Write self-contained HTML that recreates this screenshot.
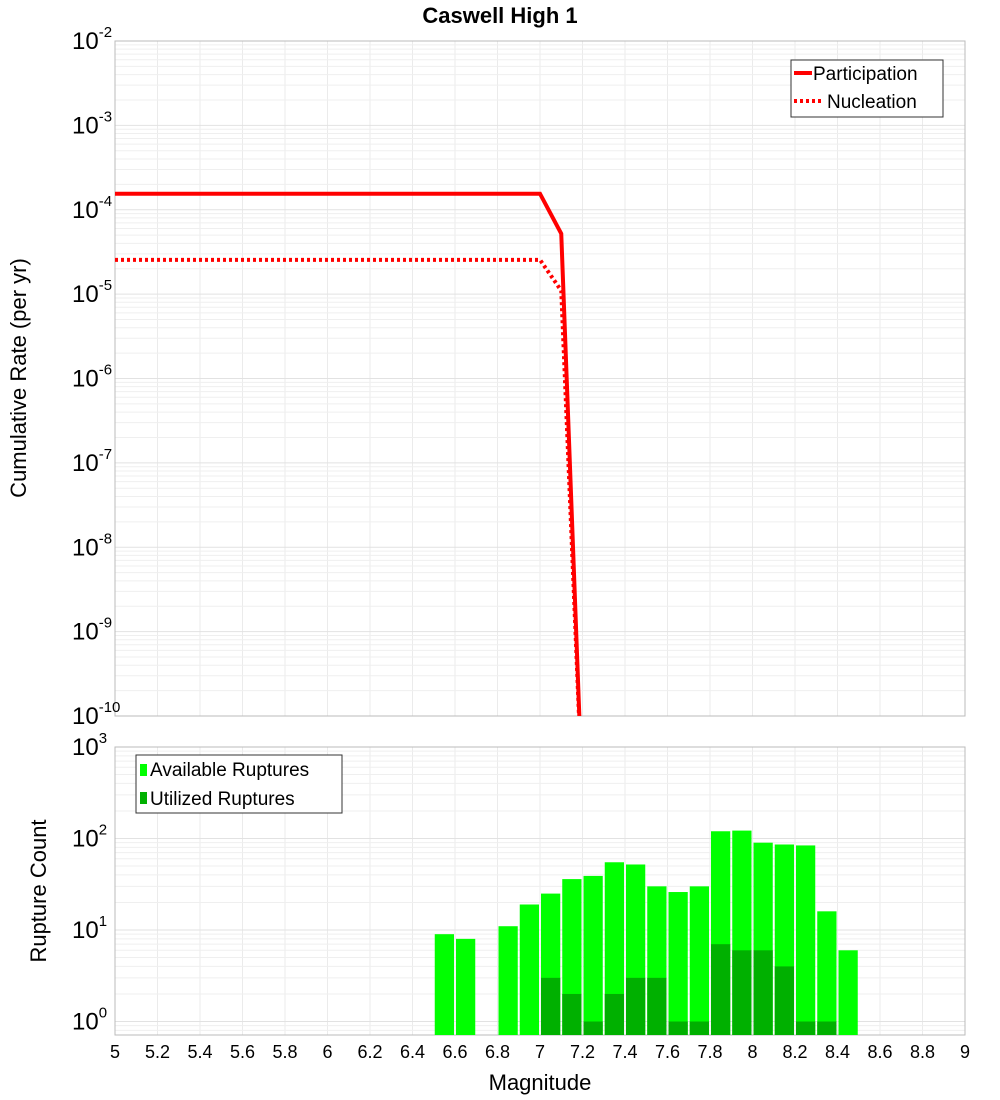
<!DOCTYPE html>
<html><head><meta charset="utf-8"><style>body{margin:0;background:#fff}svg{display:block}text{font-family:"Liberation Sans","DejaVu Sans",sans-serif}</style></head>
<body>
<svg id="c" width="1000" height="1100"></svg>
<script>
const mags=[5.0,5.1,5.2,5.3,5.4,5.5,5.6,5.7,5.8,5.9,6.0,6.1,6.2,6.3,6.4,6.5,6.6,6.7,6.8,6.9,7.0,7.1,7.2];
const participation=[1.55e-4,1.55e-4,1.55e-4,1.55e-4,1.55e-4,1.55e-4,1.55e-4,1.55e-4,1.55e-4,1.55e-4,1.55e-4,1.55e-4,1.55e-4,1.55e-4,1.55e-4,1.55e-4,1.55e-4,1.55e-4,1.55e-4,1.55e-4,1.55e-4,5.2e-5,1e-11];
const nucleation=[2.55e-5,2.55e-5,2.55e-5,2.55e-5,2.55e-5,2.55e-5,2.55e-5,2.55e-5,2.55e-5,2.55e-5,2.55e-5,2.55e-5,2.55e-5,2.55e-5,2.55e-5,2.55e-5,2.55e-5,2.55e-5,2.55e-5,2.55e-5,2.55e-5,1.1e-5,1e-11];
const binStarts=[6.5,6.6,6.7,6.8,6.9,7.0,7.1,7.2,7.3,7.4,7.5,7.6,7.7,7.8,7.9,8.0,8.1,8.2,8.3,8.4];
const available=[9,8,0,11,19,25,36,39,55,52,30,26,30,120,122,90,86,84,16,6];
const utilized=[0,0,0,0,0,3,2,1,2,3,3,1,1,7,6,6,4,1,1,0];
const xTicks=["5","5.2","5.4","5.6","5.8","6","6.2","6.4","6.6","6.8","7","7.2","7.4","7.6","7.8","8","8.2","8.4","8.6","8.8","9"];
const topExp=[-2,-3,-4,-5,-6,-7,-8,-9,-10];
const botExp=[3,2,1,0];

const svg=document.getElementById('c');const NS='http://www.w3.org/2000/svg';
function el(t,a,p){const e=document.createElementNS(NS,t);for(const k in a)e.setAttribute(k,a[k]);(p||svg).appendChild(e);return e;}
const L=115,R=965,T1=41,B1=716,T2=747,B2=1035;
const x=m=>L+(m-5)/4*(R-L);
const y1=v=>T1+(-2-Math.log10(v))*(B1-T1)/8;
const dec2=91.5;
const y2=v=>T2+(3-Math.log10(v))*dec2;

function grid(top,bot,yf,emin,emax,name){
  const g=el('g',{});  
  for(let m=5;m<=9.001;m+=0.2){el('line',{x1:x(m),x2:x(m),y1:top,y2:bot,stroke:'#ebebeb'},g);}
  for(let e=emin;e<emax;e++)for(let k=1;k<10;k++){const yy=yf(k*Math.pow(10,e));if(yy>=top&&yy<=bot)el('line',{x1:L,x2:R,y1:yy,y2:yy,stroke:k==1?'#e2e2e2':'#efefef'},g);}
  el('rect',{x:L,y:top,width:R-L,height:bot-top,fill:'none',stroke:'#bbb'},g);
}
grid(T1,B1,y1,-10,-1,'top-grid');
grid(T2,B2,y2,-1,3,'bottom-grid');

let t=el('text',{x:500,y:23,'text-anchor':'middle','font-size':22,'font-weight':'bold'});t.textContent='Caswell High 1';


topExp.forEach(e=>{const tt=el('text',{x:72,y:y1(Math.pow(10,e))+8,'font-size':24});tt.innerHTML='10<tspan dy="-12" font-size="15">'+e+'</tspan>';
});
botExp.forEach(e=>{const tt=el('text',{x:72,y:y2(Math.pow(10,e))+8,'font-size':24});tt.innerHTML='10<tspan dy="-12" font-size="15">'+e+'</tspan>';
});

t=el('text',{transform:'translate(26,378) rotate(-90)','text-anchor':'middle','font-size':22});t.textContent='Cumulative Rate (per yr)';

t=el('text',{transform:'translate(46,891) rotate(-90)','text-anchor':'middle','font-size':22});t.textContent='Rupture Count';


xTicks.forEach((s,i)=>{const tt=el('text',{x:x(5+i*0.2),y:1058,'text-anchor':'middle','font-size':18});tt.textContent=s;
});
t=el('text',{x:540,y:1090,'text-anchor':'middle','font-size':22});t.textContent='Magnitude';


const cp=el('clipPath',{id:'cp1'});el('rect',{x:L,y:T1,width:R-L,height:B1-T1},cp);
function line(arr,dash,name){const d=arr.map((v,i)=>(i?'L':'M')+x(mags[i])+','+y1(v)).join('');
 const p=el('path',{d:d,fill:'none',stroke:'#f00','stroke-width':4,'clip-path':'url(#cp1)','stroke-dasharray':dash||'none'});
 }
line(participation,null,'participation-line');
line(nucleation,'3,3','nucleation-line');

const bw=x(5.1)-x(5);
binStarts.forEach((m,i)=>{
 if(available[i]>0){const r=el('rect',{x:x(m)+1,y:y2(available[i]),width:bw-2,height:B2-y2(available[i]),fill:'#00ff00'});
  }
 if(utilized[i]>0){const r=el('rect',{x:x(m)+1,y:y2(utilized[i]),width:bw-2,height:B2-y2(utilized[i]),fill:'#00b000'});
  }
});

let lg=el('g',{});
el('rect',{x:791,y:60,width:152,height:57,fill:'#fff',stroke:'#333'},lg);
el('line',{x1:794,x2:812,y1:73,y2:73,stroke:'#f00','stroke-width':4},lg);
el('line',{x1:794,x2:822,y1:101,y2:101,stroke:'#f00','stroke-width':4,'stroke-dasharray':'3,3'},lg);
t=el('text',{x:813,y:80,'font-size':19},lg);t.textContent='Participation';
t=el('text',{x:827,y:108,'font-size':19},lg);t.textContent='Nucleation';

lg=el('g',{});
el('rect',{x:136,y:755,width:206,height:58,fill:'#fff',stroke:'#333'},lg);
el('rect',{x:140,y:764,width:7,height:12,fill:'#00ff00'},lg);
el('rect',{x:140,y:792,width:7,height:12,fill:'#00b000'},lg);
t=el('text',{x:150,y:776,'font-size':19},lg);t.textContent='Available Ruptures';
t=el('text',{x:150,y:805,'font-size':19},lg);t.textContent='Utilized Ruptures';
</script>
</body></html>
